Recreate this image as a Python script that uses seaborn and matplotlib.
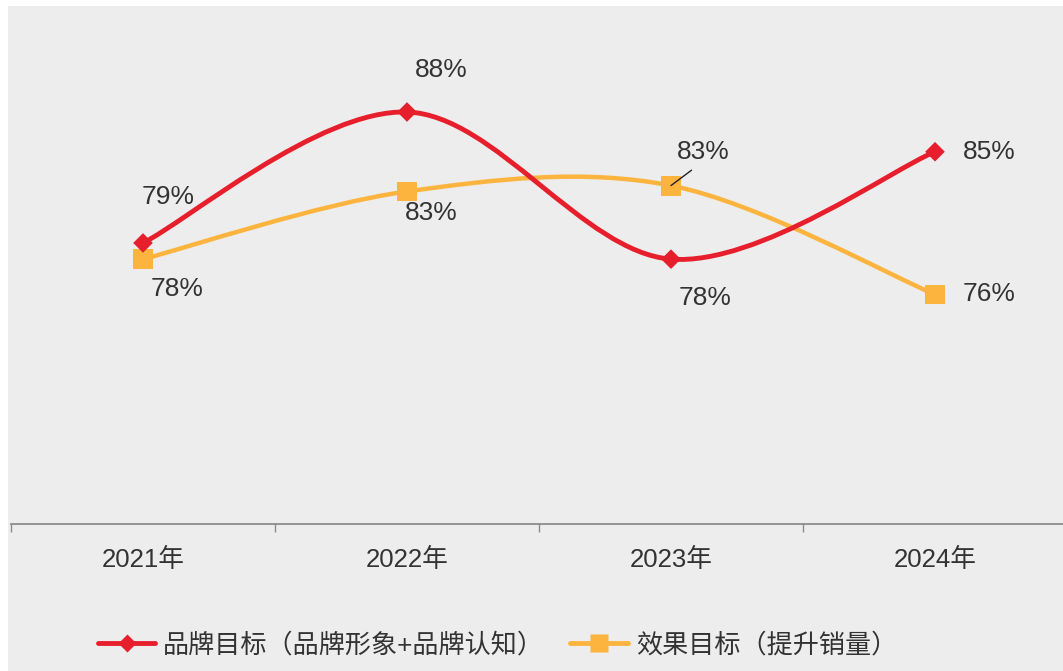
import numpy as np
import matplotlib.pyplot as plt
import seaborn as sns
from matplotlib.path import Path
from matplotlib.patches import PathPatch, Rectangle
from matplotlib.lines import Line2D

# data (labels show rounded values)
years = ['2021年', '2022年', '2023年', '2024年']
brand = [79.1, 88.0, 78.0, 85.3]
effect = [78.0, 82.6, 83.0, 75.6]
brand_name = '品牌目标（品牌形象+品牌认知）'
effect_name = '效果目标（提升销量）'

# label offsets in pixels (dx, dy), y up
brand_off = [(25, 46), (34, 42), (34, -39), (54, 0)]
effect_off = [(34, -30), (24, -22), (32, 34), (54, 0)]

RED = '#E71F2C'
YELLOW = '#FCB43E'
BG = '#EDEDED'
TXT = '#333333'
GRID = '#8C8C8C'

sns.set_theme(style='white')
plt.rcParams['font.family'] = ['Liberation Sans', 'Noto Sans CJK SC']

W, H = 1063, 671
fig = plt.figure(figsize=(W / 100, H / 100), dpi=100)
fig.patch.set_facecolor('white')
fig.patches.append(Rectangle((8 / W, 0), 1, 1 - 6 / H, transform=fig.transFigure,
                             facecolor=BG, edgecolor='none', zorder=-10))

ax = fig.add_axes([11 / W, 1 - 524 / H, 1056 / W, 515 / H])
ax.patch.set_alpha(0)


def smooth_path(vals):
    # Excel-like smoothed line: cubic bezier with catmull-rom tangents
    pts = np.column_stack([np.arange(len(vals), dtype=float), np.asarray(vals, dtype=float)])
    ext = np.vstack([pts[0], pts, pts[-1]])
    tang = (ext[2:] - ext[:-2]) / 2
    verts = [pts[0]]
    codes = [Path.MOVETO]
    for i in range(len(pts) - 1):
        verts += [pts[i] + tang[i] / 3, pts[i + 1] - tang[i + 1] / 3, pts[i + 1]]
        codes += [Path.CURVE4] * 3
    return Path(verts, codes)


ax.add_patch(PathPatch(smooth_path(effect), facecolor='none', edgecolor=YELLOW, lw=3.2, zorder=2))
ax.add_patch(PathPatch(smooth_path(brand), facecolor='none', edgecolor=RED, lw=3.5, zorder=2))

sns.scatterplot(x=years, y=effect, marker='s', s=205, color=YELLOW, edgecolor='none', zorder=3, ax=ax)
sns.scatterplot(x=years, y=brand, marker='D', s=100, color=RED, edgecolor='none', zorder=4, ax=ax)

for i, v in enumerate(brand):
    dx, dy = brand_off[i]
    ax.annotate(f'{v:.0f}%', xy=(i, v), xytext=(dx * 0.72, dy * 0.72), textcoords='offset points',
                ha='center', va='center', fontsize=19, color=TXT, zorder=6)
for i, v in enumerate(effect):
    dx, dy = effect_off[i]
    props = None
    if i == 2:
        props = dict(arrowstyle='-', color='#222222', lw=1, relpos=(0.45, 0), shrinkA=4, shrinkB=0)
    ax.annotate(f'{v:.0f}%', xy=(i, v), xytext=(dx * 0.72, dy * 0.72), textcoords='offset points',
                ha='center', va='center', fontsize=19, color=TXT, zorder=6, arrowprops=props)

ax.set_xlim(-0.5, 3.5)
ax.set_ylim(60, 95)
ax.set_yticks([])
ax.set_xticks(range(len(years)))
ax.set_xticklabels(years, fontsize=18.5, color=TXT)
ax.set_xticks(np.arange(-0.5, len(years), 1), minor=True)
ax.tick_params(axis='x', which='major', bottom=False, length=0, pad=17)
ax.tick_params(axis='x', which='minor', bottom=True, length=5.8, width=1, color=GRID, direction='out')
ax.set_xlabel('')
ax.set_ylabel('')
for s in ['top', 'left', 'right']:
    ax.spines[s].set_visible(False)
ax.spines['bottom'].set_color(GRID)
ax.spines['bottom'].set_linewidth(1.3)

handles = [Line2D([], [], color=RED, lw=3.5, marker='D', markersize=9, markeredgecolor='none'),
           Line2D([], [], color=YELLOW, lw=3.5, marker='s', markersize=13, markeredgecolor='none')]
fig.legend(handles, [brand_name, effect_name], loc='center', bbox_to_anchor=(0.468, 1 - 645 / H),
           ncol=2, frameon=False, fontsize=18.8, handlelength=2.2, handletextpad=0.3,
           columnspacing=1.0, labelcolor=TXT)

fig.savefig('out.png', dpi=100)
